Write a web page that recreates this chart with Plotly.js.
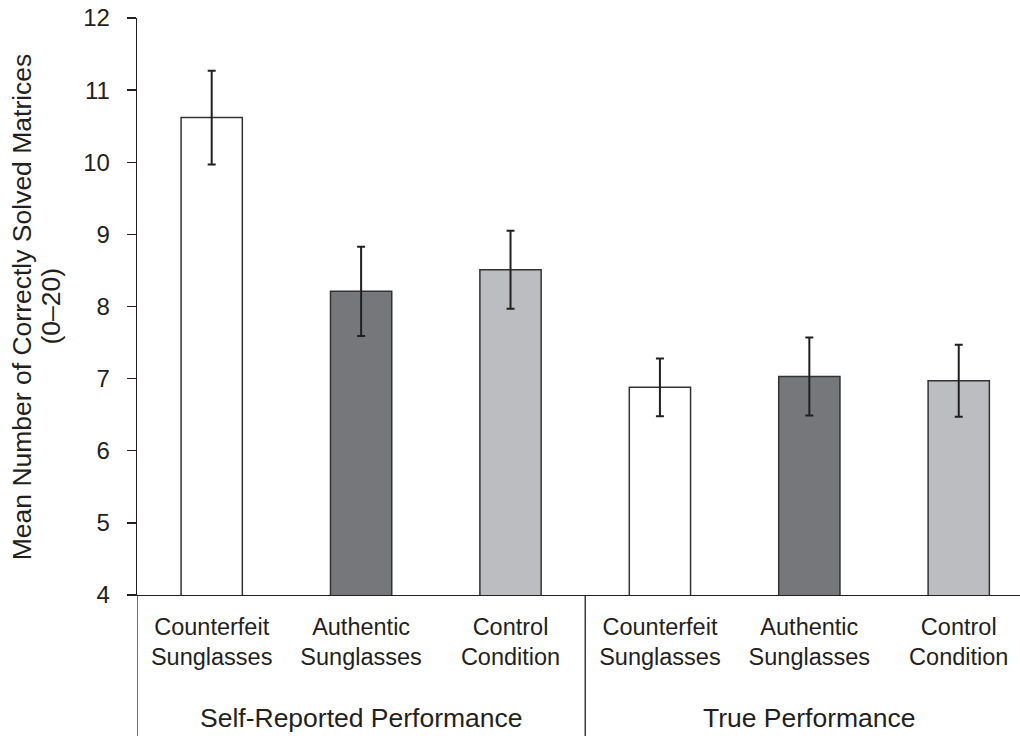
<!DOCTYPE html>
<html>
<head>
<meta charset="utf-8">
<script src="https://cdn.plot.ly/plotly-3.0.1.min.js"></script>
<style>html,body{margin:0;padding:0;background:#fff;}#chart{width:1020px;height:736px;}</style>
</head>
<body>
<div id="chart"></div>
<script>
const groups = ['Self-Reported Performance', 'True Performance'];
const conditions = ['Counterfeit<br>Sunglasses', 'Authentic<br>Sunglasses', 'Control<br>Condition'];
const selfReported = [10.62, 8.21, 8.51];
const selfReportedErr = [0.65, 0.62, 0.54];
const truePerformance = [6.88, 7.03, 6.97];
const truePerformanceErr = [0.40, 0.54, 0.50];
const yTicks = [4, 5, 6, 7, 8, 9, 10, 11, 12];
const yTitleLines = ['Mean Number of Correctly Solved Matrices', '(0–20)'];

const conditionColors = ['#ffffff', '#76777b', '#bcbdc0'];
const ink = '#231f20';
const font = 'Liberation Sans, Arial, sans-serif';

const values = selfReported.concat(truePerformance);
const errs = selfReportedErr.concat(truePerformanceErr);
const labels = conditions.concat(conditions);
const xs = values.map((_, i) => i);
const colors = xs.map(i => conditionColors[i % conditions.length]);

const trace = {
  type: 'bar',
  x: xs,
  y: values,
  width: 0.41,
  marker: {color: colors, line: {color: '#333333', width: 1.5}},
  error_y: {type: 'data', array: errs, visible: true, color: ink, thickness: 2, width: 4},
  hoverinfo: 'y'
};

const groupCenters = groups.map((g, k) => k * conditions.length + (conditions.length - 1) / 2);
const dividers = [-0.5, conditions.length - 0.5];

const annotations = groups.map((g, k) => ({
  text: g, x: groupCenters[k], xref: 'x', y: -0.213, yref: 'paper',
  xanchor: 'center', yanchor: 'middle', showarrow: false,
  font: {family: font, size: 26.5, color: ink}
}));
const titleX = [-0.1305, -0.0985];
yTitleLines.forEach((t, i) => annotations.push({
  text: t, textangle: -90, x: titleX[i], xref: 'paper', y: 0.5, yref: 'paper',
  xanchor: 'center', yanchor: 'middle', showarrow: false,
  font: {family: font, size: 26.5, color: ink}
}));

const shapes = dividers.map(d => ({
  type: 'line', xref: 'x', yref: 'paper', x0: d, x1: d, y0: 0, y1: -0.26,
  line: {color: ink, width: 1.3}
}));

const layout = {
  width: 1020, height: 736,
  margin: {l: 137, r: 0, t: 18, b: 141},
  paper_bgcolor: '#ffffff', plot_bgcolor: '#ffffff',
  showlegend: false,
  bargap: 0,
  font: {family: font, color: ink},
  xaxis: {
    range: [-0.5, 5.41], tickvals: xs, ticktext: labels,
    showline: true, linecolor: ink, linewidth: 1.3, ticks: '', showgrid: false, zeroline: false,
    ticklabelstandoff: 10,
    tickfont: {family: font, size: 23.5, color: ink}, fixedrange: true
  },
  yaxis: {
    range: [4, 12], tickvals: yTicks,
    showline: true, linecolor: ink, linewidth: 1.3, ticks: 'outside', ticklen: 9, tickwidth: 1.3, tickcolor: ink,
    showgrid: false, zeroline: false,
    ticklabelstandoff: 12,
    tickfont: {family: font, size: 24, color: ink},
    fixedrange: true
  },
  annotations: annotations,
  shapes: shapes
};

Plotly.newPlot('chart', [trace], layout, {displayModeBar: false, staticPlot: true});
</script>
</body>
</html>
